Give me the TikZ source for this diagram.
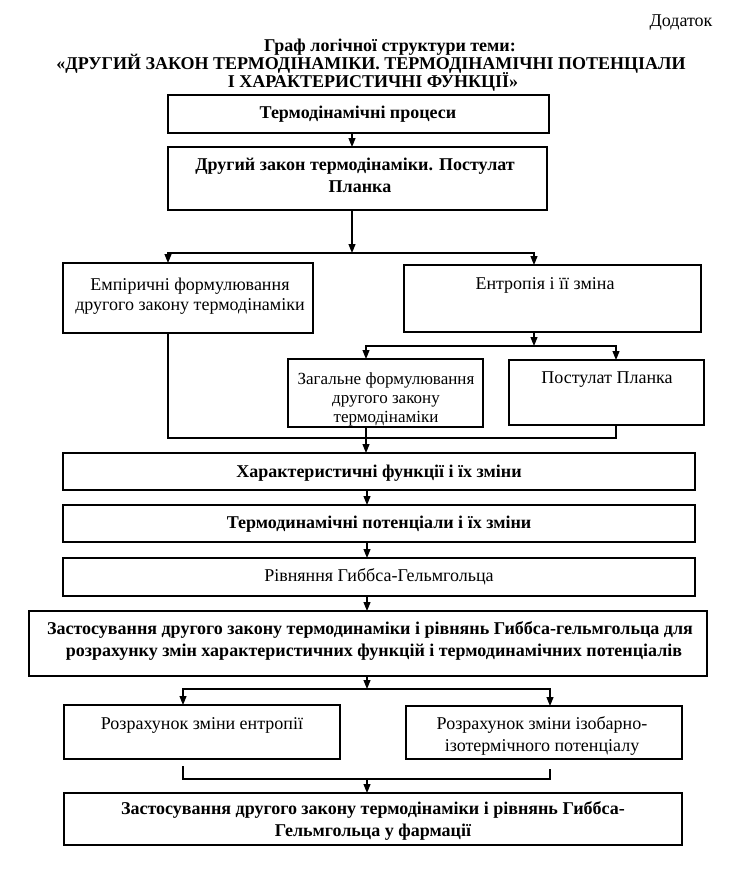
\documentclass[tikz,border=0pt]{standalone}
\usepackage{fontspec}
\setmainfont{Liberation Serif}
\usetikzlibrary{arrows.meta}
\newcommand\mkbox[5]{\node[box, minimum width={#4pt-#2pt}, minimum height={#5pt-#3pt}] (#1) at (#2,#3) {};}
\begin{document}
\begin{tikzpicture}[x=1pt,y=-1pt,
  box/.style={draw, line width=1.1pt, inner sep=0pt, outer sep=0pt, anchor=north west},
  txt/.style={anchor=base, inner sep=0pt, font=\fontsize{18}{22}\selectfont},
  stxt/.style={anchor=base, inner sep=0pt, font=\fontsize{17}{20}\selectfont},
  btxt/.style={anchor=base, inner sep=0pt, font=\fontsize{18}{22}\selectfont\bfseries},
  con/.style={line width=1.1pt},
  arr/.style={con, -{Triangle[length=9pt,width=7pt]}},
  darr/.style={con, {Triangle[length=9pt,width=7pt]}-{Triangle[length=9pt,width=7pt]}}]
\useasboundingbox[fill=white] (0,0) rectangle (741,886);

% header
\node[txt] (dod) at (681,27) {Додаток};
\node[btxt] (h1) at (390,51) {Граф логічної структури теми:};
\node[btxt] (h2) at (371,69) {«ДРУГИЙ ЗАКОН ТЕРМОДІНАМІКИ. ТЕРМОДІНАМІЧНІ ПОТЕНЦІАЛИ};
\node[btxt] (h3) at (373,87) {І ХАРАКТЕРИСТИЧНІ ФУНКЦІЇ»};

% boxes
\mkbox{b1}{168}{95}{549}{133}
\mkbox{b2}{168}{147}{547}{210}
\mkbox{b3}{63}{263}{313}{333}
\mkbox{b4}{404}{265}{701}{332}
\mkbox{b5}{288}{359}{483}{427}
\mkbox{b6}{509}{360}{704}{425}
\mkbox{b7}{63}{453}{695}{490}
\mkbox{b8}{63}{505}{695}{542}
\mkbox{b9}{63}{558}{695}{596}
\mkbox{b10}{29}{611}{707}{676}
\mkbox{b11}{64}{705}{340}{759}
\mkbox{b12}{406}{706}{682}{759}
\mkbox{b13}{64}{793}{682}{845}

% texts
\node[btxt] (t1) at (358,118) {Термодінамічні процеси};
\node[btxt] (t2a) at (355,170) {Другий закон термодінаміки. Постулат};
\node[btxt] (t2b) at (360,192) {Планка};
\node[txt] (t3a) at (190,290) {Емпіричні формулювання};
\node[txt] (t3b) at (190,310) {другого закону термодінаміки};
\node[txt] (t4) at (545,289) {Ентропія і її зміна};
\node[stxt] (t5a) at (386,384) {Загальне формулювання};
\node[stxt] (t5b) at (386,403) {другого закону};
\node[stxt] (t5c) at (386,422) {термодінаміки};
\node[txt] (t6) at (607,383) {Постулат Планка};
\node[btxt] (t7) at (379,477) {Характеристичні функції і їх зміни};
\node[btxt] (t8) at (379,528) {Термодинамічні потенціали і їх зміни};
\node[txt] (t9) at (379,581) {Рівняння Гиббса-Гельмгольца};
\node[btxt] (t10a) at (370,634) {Застосування другого закону термодинаміки і рівнянь Гиббса-гельмгольца для};
\node[btxt] (t10b) at (374,656) {розрахунку змін характеристичних функцій і термодинамічних потенціалів};
\node[txt] (t11) at (202,729) {Розрахунок зміни ентропії};
\node[txt] (t12a) at (542,729) {Розрахунок зміни ізобарно-};
\node[txt] (t12b) at (542,751) {ізотермічного потенціалу};
\node[btxt] (t13a) at (373,814) {Застосування другого закону термодінаміки і рівнянь Гиббса-};
\node[btxt] (t13b) at (373,836) {Гельмгольца у фармації};

% junction coordinates
\coordinate (j1) at (352,253);
\coordinate (j1L) at (168,253);
\coordinate (j1R) at (534,253);
\coordinate (j2) at (534,346);
\coordinate (j2L) at (366,346);
\coordinate (j2R) at (616,346);
\coordinate (j3L) at (168,438);
\coordinate (j3M) at (366,438);
\coordinate (j3R) at (616,438);
\coordinate (xm) at (367,0);
\coordinate (j4) at (367,689);
\coordinate (j4L) at (183,689);
\coordinate (j4R) at (550,689);
\coordinate (g1) at (183,766);
\coordinate (g2) at (550,769);
\coordinate (j5L) at (183,779);
\coordinate (j5M) at (367,779);
\coordinate (j5R) at (550,779);

% connectors
\draw[arr] (b1.south -| j1) -- (b2.north -| j1);
\draw[arr] (b2.south -| j1) -- (j1);
\draw[darr] (b3.north -| j1L) -- (j1L) -- (j1R) -- (b4.north -| j1R);
\draw[arr] (b4.south -| j2) -- (j2);
\draw[darr] (b5.north -| j2L) -- (j2L) -- (j2R) -- (b6.north -| j2R);
\draw[con] (b3.south -| j3L) -- (j3L) -- (j3R) -- (b6.south -| j3R);
\draw[arr] (b5.south -| j3M) -- (b7.north -| j3M);
\draw[arr] (b7.south -| xm) -- (b8.north -| xm);
\draw[arr] (b8.south -| xm) -- (b9.north -| xm);
\draw[arr] (b9.south -| xm) -- (b10.north -| xm);
\draw[arr] (b10.south -| j4) -- (j4);
\draw[darr] (b11.north -| j4L) -- (j4L) -- (j4R) -- (b12.north -| j4R);
\draw[con] (g1) -- (j5L) -- (j5R) -- (g2);
\draw[arr] (j5M) -- (b13.north -| j5M);
\end{tikzpicture}
\end{document}
